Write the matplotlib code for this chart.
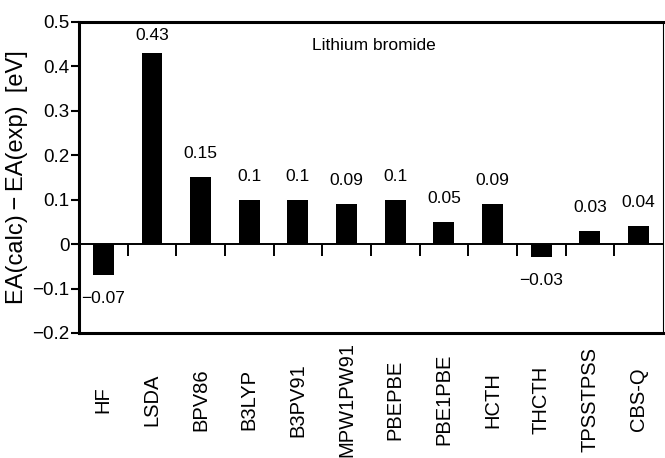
import matplotlib
matplotlib.use("Agg")
import matplotlib.pyplot as plt
import numpy as np

plt.rcParams['font.family'] = ['Liberation Sans', 'DejaVu Sans']

methods = ["HF", "LSDA", "BPV86", "B3LYP", "B3PV91", "MPW1PW91", "PBEPBE",
           "PBE1PBE", "HCTH", "THCTH", "TPSSTPSS", "CBS-Q"]
errors = [-0.07, 0.43, 0.15, 0.10, 0.10, 0.09, 0.10, 0.05, 0.09, -0.03, 0.03, 0.04]
value_labels = ["\u22120.07", "0.43", "0.15", "0.1", "0.1", "0.09", "0.1",
                "0.05", "0.09", "\u22120.03", "0.03", "0.04"]
yticks = [-0.2, -0.1, 0, 0.1, 0.2, 0.3, 0.4, 0.5]
ytick_labels = ["\u22120.2", "\u22120.1", "0", "0.1", "0.2", "0.3", "0.4", "0.5"]

fig = plt.figure(figsize=(6.65, 4.58), dpi=100)
ax = fig.add_axes([0.1188, 0.273, 0.878, 0.679])

x = np.arange(len(methods))
ax.bar(x, errors, width=0.43, color='black', zorder=3)
ax.set_xlim(-0.5, len(methods) - 0.5)
ax.set_ylim(-0.2, 0.5)

ax.axhline(0, color='black', lw=1.4, zorder=4)
bounds = x[:-1] + 0.5
ax.vlines(bounds, -0.027, 0, color='black', lw=1.4, zorder=4)

for xi, v, lab in zip(x, errors, value_labels):
    if v >= 0:
        ax.text(xi, min(v + 0.036, 0.453), lab, ha='center', va='bottom',
                fontsize=12.5)
    else:
        ax.text(xi, v - 0.036, lab, ha='center', va='top', fontsize=12.5)

ax.set_yticks(yticks)
ax.set_yticklabels(ytick_labels, fontsize=13.5)
ax.set_xticks(x)
ax.set_xticklabels(methods, rotation=90, fontsize=14.5, va='center')
ax.tick_params(axis='x', length=0, pad=48)
ax.tick_params(axis='y', direction='out', length=6, width=1.5, pad=1)

ax.set_ylabel("EA(calc)\u2009\u2212\u2009EA(exp)  [eV]", fontsize=17, labelpad=3)
ax.text(5.56, 0.448, "Lithium bromide", ha='center', va='center', fontsize=12.5)

for side in ['left', 'top', 'bottom']:
    ax.spines[side].set_linewidth(2.2)
ax.spines['right'].set_linewidth(0.8)

fig.savefig("out.png", dpi=100)
